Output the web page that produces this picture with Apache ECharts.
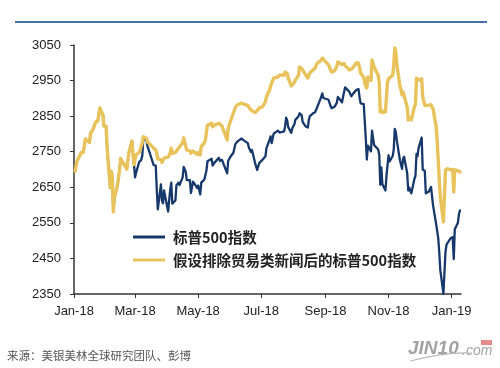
<!DOCTYPE html>
<html>
<head>
<meta charset="utf-8">
<script src="https://cdn.jsdelivr.net/npm/echarts@6/dist/echarts.min.js"></script>
<style>
html,body{margin:0;padding:0;background:#fff;}
#c{width:500px;height:368px;}
</style>
</head>
<body>
<div id="c"></div>
<script>
const dates = [
'2018-01-02','2018-01-04','2018-01-08','2018-01-10','2018-01-12','2018-01-16','2018-01-17','2018-01-19','2018-01-22','2018-01-24','2018-01-26','2018-01-29','2018-01-30',
'2018-02-01','2018-02-02','2018-02-05','2018-02-06','2018-02-07','2018-02-08','2018-02-09','2018-02-12','2018-02-14','2018-02-15','2018-02-16','2018-02-21','2018-02-23','2018-02-26','2018-02-27','2018-02-28',
'2018-03-01','2018-03-02','2018-03-05','2018-03-07','2018-03-08','2018-03-09','2018-03-12','2018-03-13','2018-03-15','2018-03-16','2018-03-19','2018-03-21','2018-03-22','2018-03-23','2018-03-26','2018-03-27','2018-03-28','2018-03-29',
'2018-04-02','2018-04-03','2018-04-04','2018-04-05','2018-04-06','2018-04-09','2018-04-10','2018-04-12','2018-04-13','2018-04-16','2018-04-17','2018-04-18','2018-04-19','2018-04-20','2018-04-23','2018-04-24','2018-04-26','2018-04-27','2018-04-30',
'2018-05-01','2018-05-03','2018-05-04','2018-05-07','2018-05-08','2018-05-09','2018-05-10','2018-05-14','2018-05-15','2018-05-17','2018-05-21','2018-05-22','2018-05-24','2018-05-29','2018-05-30',
'2018-06-01','2018-06-04','2018-06-06','2018-06-08','2018-06-12','2018-06-14','2018-06-15','2018-06-18','2018-06-19','2018-06-21','2018-06-22','2018-06-25','2018-06-27','2018-06-29',
'2018-07-02','2018-07-05','2018-07-06','2018-07-09','2018-07-10','2018-07-11','2018-07-13','2018-07-17','2018-07-19','2018-07-23','2018-07-24','2018-07-25','2018-07-26','2018-07-27','2018-07-30','2018-07-31',
'2018-08-02','2018-08-03','2018-08-06','2018-08-07','2018-08-09','2018-08-10','2018-08-13','2018-08-15','2018-08-16','2018-08-17','2018-08-20','2018-08-22','2018-08-24','2018-08-27','2018-08-29','2018-08-30',
'2018-09-04','2018-09-06','2018-09-07','2018-09-10','2018-09-12','2018-09-13','2018-09-14','2018-09-17','2018-09-18','2018-09-19','2018-09-20','2018-09-21','2018-09-24','2018-09-26','2018-09-28',
'2018-10-01','2018-10-03','2018-10-04','2018-10-05','2018-10-08','2018-10-09','2018-10-10','2018-10-11','2018-10-12','2018-10-15','2018-10-16','2018-10-17','2018-10-18','2018-10-19','2018-10-22','2018-10-23','2018-10-24','2018-10-25','2018-10-26','2018-10-29','2018-10-30','2018-10-31',
'2018-11-01','2018-11-02','2018-11-05','2018-11-06','2018-11-07','2018-11-08','2018-11-09','2018-11-12','2018-11-13','2018-11-14','2018-11-15','2018-11-16','2018-11-19','2018-11-20','2018-11-21','2018-11-23','2018-11-26','2018-11-27','2018-11-28','2018-11-29','2018-11-30',
'2018-12-03','2018-12-04','2018-12-06','2018-12-07','2018-12-10','2018-12-11','2018-12-12','2018-12-13','2018-12-14','2018-12-17','2018-12-18','2018-12-19','2018-12-20','2018-12-21','2018-12-24','2018-12-26','2018-12-27','2018-12-28','2018-12-31',
'2019-01-02','2019-01-03','2019-01-04','2019-01-07','2019-01-08','2019-01-09'
];
const sp500 = [
2695,2724,2748,2748,2786,2776,2802,2810,2833,2837,2873,2853,2822,
2822,2762,2649,2695,2682,2581,2620,2656,2698,2731,2732,2701,2747,2780,2744,2714,
2678,2691,2721,2727,2739,2786,2783,2766,2748,2752,2712,2711,2643,2588,2658,2613,2605,2641,
2582,2614,2644,2663,2604,2613,2656,2663,2656,2678,2707,2709,2693,2670,2670,2634,2666,2670,2648,
2655,2630,2663,2672,2672,2697,2723,2730,2711,2720,2733,2724,2727,2689,2724,
2735,2747,2772,2779,2787,2782,2780,2774,2762,2749,2755,2718,2699,2718,
2727,2737,2760,2784,2793,2774,2801,2809,2804,2807,2821,2846,2838,2819,2803,2816,
2827,2840,2850,2858,2853,2833,2821,2818,2840,2850,2858,2861,2875,2897,2914,2901,
2896,2878,2872,2877,2888,2904,2905,2889,2904,2907,2931,2930,2919,2906,2914,
2924,2926,2902,2886,2884,2881,2786,2728,2767,2751,2809,2809,2769,2768,2756,2741,2657,2706,2659,2641,2683,2712,
2740,2723,2738,2756,2814,2806,2781,2726,2722,2702,2730,2736,2690,2641,2649,2633,2674,2682,2744,2738,2760,
2790,2700,2696,2633,2638,2636,2651,2650,2599,2546,2546,2507,2467,2417,2351,2468,2489,2486,2507,
2510,2448,2532,2550,2574,2585
];
const sp500ExTrade = [
2695,2724,2748,2748,2786,2776,2802,2810,2833,2837,2873,2853,2822,
2822,2762,2649,2695,2682,2581,2620,2656,2698,2731,2732,2701,2747,2780,2744,2714,
2730,2742,2748,2765,2775,2792,2788,2778,2772,2770,2760,2755,2746,2730,2727,2720,2718,2732,
2735,2740,2746,2760,2745,2748,2749,2760,2755,2775,2789,2785,2765,2755,2752,2746,2752,2755,2742,
2748,2741,2765,2775,2783,2805,2825,2830,2820,2825,2830,2825,2822,2783,2815,
2834,2859,2875,2882,2887,2884,2881,2880,2875,2867,2870,2860,2865,2873,
2876,2890,2905,2923,2935,2940,2957,2960,2966,2965,2974,2975,2970,2957,2935,2940,
2945,2952,2965,2988,2984,2980,2965,2957,2965,2972,2980,2985,2999,3005,3013,3013,
2994,2980,2974,2978,2990,3002,3003,2995,2999,2998,2992,2990,2980,2982,2988,
3000,2999,2985,2971,2960,2943,2935,2929,2960,2950,3008,3005,2988,2985,2965,2943,2862,2868,2860,2862,2905,2946,
2955,2952,2965,2994,3042,3030,2995,2935,2924,2910,2918,2915,2876,2839,2845,2840,2876,2885,2957,2952,2952,
2955,2904,2880,2876,2881,2880,2882,2876,2870,2820,2780,2727,2671,2623,2553,2699,2704,2702,2699,
2700,2637,2699,2697,2695,2693
];
const seriesNames = ['标普500指数', '假设排除贸易类新闻后的标普500指数'];
const xTickDates = ['2018-01-01','2018-03-01','2018-05-01','2018-07-01','2018-09-01','2018-11-01','2019-01-01'];
const xTickLabels = ['Jan-18','Mar-18','May-18','Jul-18','Sep-18','Nov-18','Jan-19'];
const yTicks = [2350,2450,2550,2650,2750,2850,2950,3050];
const sourceText = '来源：美银美林全球研究团队、彭博';

function toTs(s){ const p = s.split('-').map(Number); return Date.UTC(p[0], p[1]-1, p[2]); }
const xTickTs = xTickDates.map(toTs);

const chart = echarts.init(document.getElementById('c'), null, {renderer:'canvas'});
const axisFont = {fontFamily:'Liberation Sans, Arial, sans-serif', fontSize:13, color:'#222'};
chart.setOption({
  animation:false,
  backgroundColor:'#fff',
  grid:{left:74, right:39, top:45, bottom:74, containLabel:false},
  xAxis:{
    type:'value',
    min: toTs('2018-01-01'),
    max: toTs('2019-01-10'),
    axisLine:{show:true, lineStyle:{color:'#333', width:1.5}},
    axisTick:{show:true, length:4, lineStyle:{color:'#333'}, customValues: xTickTs},
    splitLine:{show:false},
    axisLabel:Object.assign({
      margin:11,
      customValues: xTickTs,
      formatter:function(v){
        const i = xTickTs.indexOf(+v);
        return i >= 0 ? xTickLabels[i] : '';
      }
    }, axisFont)
  },
  yAxis:{
    type:'value',
    min:2350, max:3050, interval:50,
    axisLine:{show:true, lineStyle:{color:'#333', width:1.5}},
    axisTick:{show:true, length:4, lineStyle:{color:'#333'}, customValues: yTicks},
    splitLine:{show:false},
    axisLabel:Object.assign({margin:13, customValues: yTicks, formatter:function(v){ return String(v); }}, axisFont)
  },
  legend:{
    data: seriesNames,
    orient:'vertical',
    left:128, top:224,
    icon:'rect',
    itemWidth:32, itemHeight:3,
    itemGap:7,
    textStyle:{fontFamily:'Noto Sans CJK SC', fontSize:14.5, fontWeight:'bold', color:'#222', lineHeight:16, padding:[0,0,0,3]}
  },
  series:[
    {name:seriesNames[0], type:'line', showSymbol:false, symbol:'none',
     data: dates.map((d,i)=>[toTs(d), sp500[i]]),
     lineStyle:{color:'#17386b', width:2.3, join:'round', cap:'round'}, itemStyle:{color:'#17386b'}, z:2},
    {name:seriesNames[1], type:'line', showSymbol:false, symbol:'none', zlevel:1,
     data: dates.map((d,i)=>[toTs(d), sp500ExTrade[i]]),
     lineStyle:{color:'#e8c35c', width:3.4, join:'round', cap:'round'}, itemStyle:{color:'#e8c35c'}, z:3}
  ],
  graphic:[
    {type:'line', shape:{x1:15, y1:22, x2:487, y2:22}, style:{stroke:'#4a70aa', lineWidth:2}},
    {type:'text', left:7, top:350, style:{text:sourceText, fontFamily:'Noto Sans CJK SC', fontSize:11.5, fill:'#555'}},
    {type:'text', left:408, top:339, style:{text:'JIN10', fontFamily:'Liberation Sans, Arial', fontSize:19, fontWeight:'bold', fontStyle:'italic', fill:'#a3a3a3'}},
    {type:'text', left:462, top:344, style:{text:'.com', fontFamily:'Liberation Sans, Arial', fontSize:14, fontStyle:'italic', fill:'#a3a3a3'}},
    {type:'rect', shape:{x:481, y:340, width:11, height:5}, style:{fill:'#e88a8a'}},
    {type:'bezierCurve', shape:{x1:410, y1:361, x2:470, y2:353, cpx1:430, cpy1:356, cpx2:450, cpy2:352}, style:{stroke:'#b8b8b8', lineWidth:1.2, fill:null}}
  ]
});
</script>
</body>
</html>
